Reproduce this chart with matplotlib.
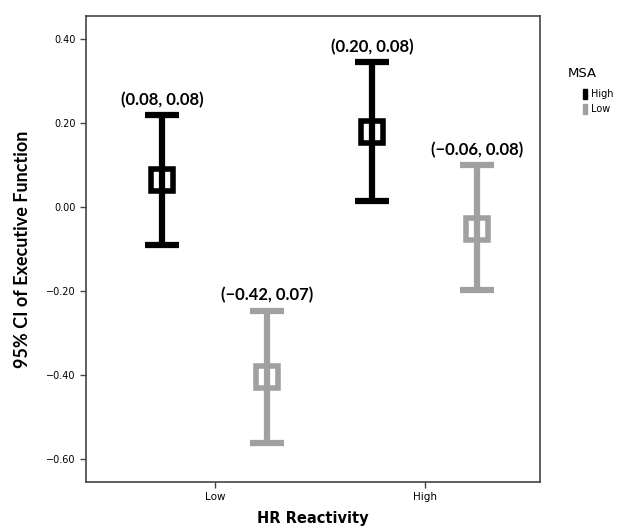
import numpy as np
import matplotlib.pyplot as plt
from matplotlib.patches import Rectangle

# данные: группы по оси X и серии MSA
groups = ["Low", "High"]
msa_levels = ["High", "Low"]
means = {"High": [0.064, 0.179], "Low": [-0.405, -0.052]}
lower = {"High": [-0.090, 0.015], "Low": [-0.562, -0.198]}
upper = {"High": [0.219, 0.344], "Low": [-0.247, 0.100]}
labels = {"High": ["(0.08, 0.08)", "(0.20, 0.08)"],
          "Low": ["(\u22120.42, 0.07)", "(\u22120.06, 0.08)"]}
colors = {"High": "#000000", "Low": "#a0a0a0"}
offsets = {"High": -0.25, "Low": 0.25}

fig = plt.figure(figsize=(6.19, 5.29), dpi=100)
ax = fig.add_axes([0.139, 0.089, 0.733, 0.881])

x = np.arange(len(groups))
for level in msa_levels:
    xs = x + offsets[level]
    m = np.array(means[level])
    lo = m - np.array(lower[level])
    hi = np.array(upper[level]) - m
    ax.errorbar(xs, m, yerr=[lo, hi], fmt='none', ecolor=colors[level],
                elinewidth=4.5, capsize=12, capthick=4.5, zorder=2)
    ax.plot(xs, m, 's', ms=16.5, mfc='none', mec=colors[level], mew=4, zorder=3)
    for xi, ui, txt in zip(xs, upper[level], labels[level]):
        ax.annotate(txt, (xi, ui), xytext=(0, 5), textcoords='offset points',
                    ha='center', va='bottom', fontsize=12, fontweight='bold',
                    family='Lato')

ax.set_xlim(-0.614, 1.548)
ax.set_ylim(-0.655, 0.455)
ax.set_xticks(x)
ax.set_xticklabels(groups, fontsize=7.5)
yt = [0.4, 0.2, 0.0, -0.2, -0.4, -0.6]
ax.set_yticks(yt)
ax.set_yticklabels([f"{v:.2f}".replace("-", "\u2212") for v in yt], fontsize=7)
ax.tick_params(direction='out', length=4, width=1, color='#444444')
for s in ax.spines.values():
    s.set_color('#444444')
    s.set_linewidth(1.2)

ax.set_xlabel("HR Reactivity", fontsize=10.5, fontweight='bold', labelpad=6)
ax.set_ylabel("95% CI of Executive Function", fontsize=13, fontweight='bold',
              family='Lato', labelpad=11)

# легенда справа
fig.text(0.940, 0.862, "MSA", ha='center', va='center', fontsize=9.5)
for i, level in enumerate(msa_levels):
    yy = 0.822 - i * 0.028
    fig.add_artist(Rectangle((0.942, yy - 0.009), 0.007, 0.018,
                             transform=fig.transFigure, color=colors[level]))
    fig.text(0.955, yy, level, ha='left', va='center', fontsize=7)

fig.savefig("out.png", dpi=100)
